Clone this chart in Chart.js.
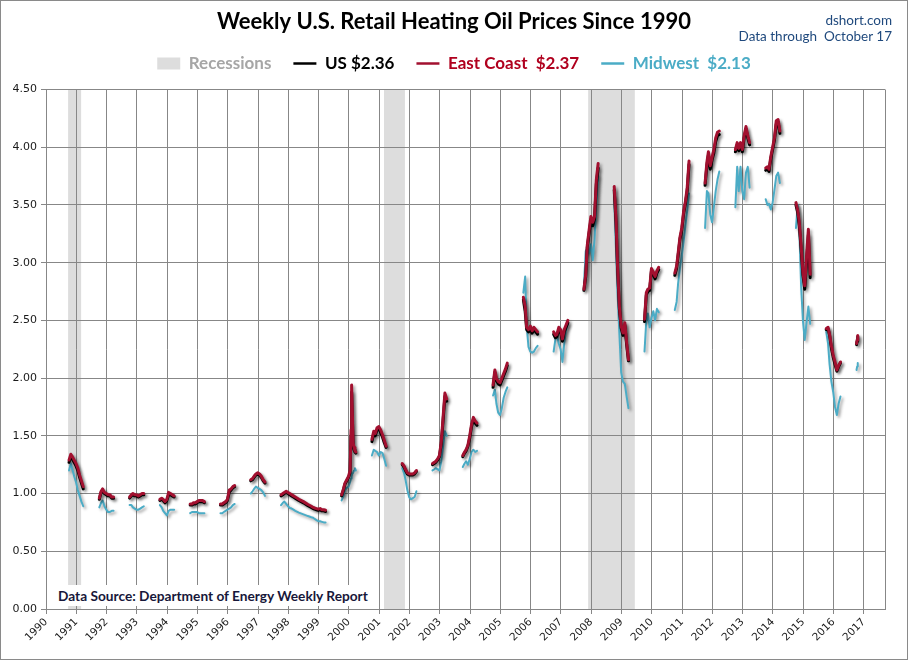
<!DOCTYPE html>
<html>
<head>
<meta charset="utf-8">
<script src="https://cdn.jsdelivr.net/npm/chart.js@4.4.0/dist/chart.umd.min.js"></script>
<style>
html,body{margin:0;padding:0;background:#fff;}
#wrap{position:relative;width:908px;height:660px;box-sizing:border-box;border:1px solid #8a8a8a;background:#fff;overflow:hidden;}
#c{position:absolute;left:0;top:0;}
#brand{position:absolute;right:15px;top:11px;text-align:right;font-family:Lato,"Open Sans",sans-serif;font-size:13.5px;line-height:16px;color:#1F497D;}
#src{position:absolute;left:49px;top:584px;width:327px;height:21px;background:#fff;font-family:Lato,"Open Sans",sans-serif;font-weight:bold;font-size:13.7px;line-height:21px;color:#17173a;padding-left:8px;box-sizing:border-box;white-space:nowrap;}
</style>
</head>
<body>
<div id="wrap">
<canvas id="c" width="906" height="658"></canvas>
<div id="brand">dshort.com<br>Data through&nbsp; October 17</div>
<div id="src">Data Source: Department of Energy Weekly Report</div>
</div>
<script>
// ---- data (decimal years, weekly heating-season readings; null = off season) ----
const weekDates = [
  1990.76,1990.82,1990.87,1990.93,1990.99,1991.05,1991.11,1991.17,1991.23,1991.5,
  1991.76,1991.82,1991.87,1991.93,1991.99,1992.05,1992.11,1992.17,1992.23,1992.5,
  1992.76,1992.82,1992.87,1992.93,1992.99,1993.05,1993.11,1993.17,1993.23,1993.5,
  1993.76,1993.82,1993.87,1993.93,1993.99,1994.05,1994.11,1994.17,1994.23,1994.5,
  1994.76,1994.82,1994.87,1994.93,1994.99,1995.05,1995.11,1995.17,1995.23,1995.5,
  1995.76,1995.82,1995.87,1995.93,1995.99,1996.05,1996.11,1996.17,1996.23,1996.5,
  1996.76,1996.82,1996.87,1996.93,1996.99,1997.05,1997.11,1997.17,1997.23,1997.5,
  1997.76,1997.82,1997.87,1997.93,1997.99,1998.05,1998.11,1998.17,1998.23,1998.35,1998.50,1998.65,1998.76,1998.82,1998.87,1998.93,1998.99,1999.05,1999.11,1999.17,1999.23,1999.5,
  1999.76,1999.82,1999.87,1999.93,1999.99,2000.04,2000.07,2000.09,2000.11,2000.14,2000.17,2000.20,2000.23,2000.5,
  2000.76,2000.82,2000.87,2000.93,2000.99,2001.05,2001.11,2001.17,2001.23,2001.5,
  2001.76,2001.82,2001.87,2001.93,2001.99,2002.05,2002.11,2002.17,2002.23,2002.5,
  2002.76,2002.82,2002.87,2002.93,2002.99,2003.05,2003.11,2003.17,2003.23,2003.5,
  2003.76,2003.82,2003.87,2003.93,2003.99,2004.05,2004.11,2004.17,2004.23,2004.5,
  2004.76,2004.82,2004.87,2004.93,2004.99,2005.05,2005.11,2005.17,2005.23,2005.5,
  2005.76,2005.82,2005.87,2005.93,2005.99,2006.05,2006.11,2006.17,2006.23,2006.5,
  2006.76,2006.82,2006.87,2006.93,2006.99,2007.05,2007.11,2007.17,2007.23,2007.5,
  2007.76,2007.82,2007.87,2007.93,2007.99,2008.05,2008.11,2008.17,2008.23,2008.5,
  2008.76,2008.82,2008.87,2008.93,2008.99,2009.05,2009.11,2009.17,2009.23,2009.5,
  2009.76,2009.82,2009.87,2009.93,2009.99,2010.05,2010.11,2010.17,2010.23,2010.5,
  2010.76,2010.82,2010.87,2010.93,2010.99,2011.05,2011.11,2011.17,2011.23,2011.5,
  2011.76,2011.82,2011.87,2011.93,2011.99,2012.05,2012.11,2012.17,2012.23,2012.5,
  2012.76,2012.82,2012.87,2012.93,2012.99,2013.05,2013.11,2013.17,2013.23,2013.5,
  2013.76,2013.82,2013.87,2013.93,2013.99,2014.05,2014.11,2014.17,2014.23,2014.5,
  2014.76,2014.82,2014.87,2014.93,2014.99,2015.05,2015.11,2015.17,2015.23,2015.5,
  2015.76,2015.82,2015.87,2015.93,2015.99,2016.05,2016.11,2016.17,2016.23,2016.5,
  2016.76,2016.78,2016.80
];

const eastCoastPrice = [
  1.29,1.34,1.32,1.29,1.26,1.22,1.16,1.11,1.06,null,
  0.96,1.02,1.04,1.01,1.00,0.99,0.99,0.97,0.97,null,
  0.97,0.99,1.00,0.99,0.99,0.98,0.99,1.00,1.00,null,
  0.95,0.96,0.95,0.93,0.95,1.01,1.00,0.99,0.98,null,
  0.91,0.91,0.92,0.92,0.93,0.94,0.94,0.94,0.93,null,
  0.91,0.91,0.92,0.93,0.95,1.03,1.04,1.06,1.07,null,
  1.12,1.13,1.15,1.17,1.18,1.17,1.15,1.12,1.10,null,
  0.99,1.00,1.01,1.02,1.01,1.00,0.99,0.98,0.97,0.95,0.93,0.905,0.89,0.88,0.875,0.87,0.865,0.87,0.86,0.86,0.855,null,
  0.99,1.04,1.09,1.12,1.15,1.20,1.55,1.94,1.75,1.44,1.40,1.37,1.36,null,
  1.47,1.54,1.52,1.57,1.58,1.55,1.51,1.46,1.41,null,
  1.26,1.24,1.21,1.18,1.17,1.17,1.17,1.18,1.20,null,
  1.26,1.27,1.28,1.30,1.33,1.45,1.66,1.87,1.82,null,
  1.33,1.36,1.38,1.42,1.50,1.60,1.66,1.63,1.61,null,
  1.94,2.07,2.00,1.97,1.96,2.00,2.04,2.08,2.13,null,
  2.70,2.62,2.44,2.42,2.45,2.41,2.44,2.42,2.40,null,
  2.40,2.37,2.38,2.44,2.42,2.34,2.42,2.46,2.50,null,
  2.77,2.90,3.15,3.28,3.40,3.35,3.40,3.72,3.86,null,
  3.66,3.37,2.97,2.62,2.45,2.39,2.48,2.31,2.16,null,
  2.51,2.74,2.77,2.78,2.95,2.92,2.88,2.93,2.96,null,
  2.91,2.97,3.08,3.22,3.30,3.44,3.53,3.65,3.88,null,
  3.69,3.87,3.96,3.84,3.91,3.98,4.08,4.13,4.14,null,
  3.98,4.04,3.99,4.04,3.98,4.10,4.18,4.10,4.04,null,
  3.82,3.83,3.81,3.92,4.00,4.08,4.23,4.24,4.14,null,
  3.52,3.45,3.35,3.15,2.92,2.80,3.05,3.29,2.90,null,
  2.43,2.44,2.38,2.28,2.20,2.14,2.07,2.11,2.14,null,
  2.30,2.33,2.37
];

const usPrice = [
  1.27,1.32,1.30,1.27,1.24,1.20,1.14,1.09,1.04,null,
  0.95,1.01,1.03,1.00,0.99,0.98,0.98,0.96,0.96,null,
  0.96,0.98,0.99,0.98,0.98,0.97,0.98,0.99,0.99,null,
  0.94,0.95,0.94,0.92,0.94,0.99,0.99,0.98,0.97,null,
  0.90,0.90,0.91,0.91,0.92,0.93,0.93,0.93,0.92,null,
  0.90,0.90,0.91,0.92,0.94,1.01,1.03,1.05,1.06,null,
  1.11,1.12,1.14,1.16,1.17,1.16,1.14,1.11,1.09,null,
  0.98,0.99,1.00,1.01,1.00,0.99,0.98,0.97,0.96,0.94,0.92,0.895,0.88,0.87,0.865,0.86,0.855,0.86,0.85,0.85,0.845,null,
  0.98,1.03,1.08,1.11,1.14,1.18,1.50,1.88,1.70,1.42,1.38,1.36,1.35,null,
  1.45,1.52,1.50,1.55,1.56,1.53,1.49,1.44,1.40,null,
  1.25,1.23,1.20,1.17,1.16,1.16,1.16,1.17,1.19,null,
  1.25,1.26,1.27,1.29,1.32,1.43,1.63,1.84,1.80,null,
  1.32,1.35,1.37,1.41,1.48,1.58,1.64,1.61,1.59,null,
  1.92,2.05,1.98,1.95,1.94,1.98,2.02,2.06,2.11,null,
  2.68,2.58,2.42,2.40,2.43,2.39,2.42,2.40,2.38,null,
  2.38,2.35,2.36,2.42,2.40,2.32,2.40,2.44,2.48,null,
  2.76,2.88,3.13,3.25,3.37,3.32,3.38,3.68,3.82,null,
  3.63,3.34,2.95,2.60,2.43,2.37,2.46,2.29,2.15,null,
  2.49,2.72,2.75,2.76,2.93,2.90,2.86,2.91,2.94,null,
  2.89,2.95,3.06,3.20,3.28,3.42,3.51,3.62,3.85,null,
  3.67,3.84,3.93,3.81,3.89,3.95,4.05,4.10,4.11,null,
  3.96,4.02,3.97,4.02,3.96,4.08,4.16,4.08,4.02,null,
  3.80,3.81,3.79,3.90,3.98,4.06,4.20,4.22,4.12,null,
  3.50,3.43,3.32,3.12,2.89,2.77,3.00,3.24,2.87,null,
  2.42,2.43,2.37,2.26,2.18,2.12,2.06,2.10,2.13,null,
  2.29,2.32,2.36
];

const midwestPrice = [
  1.20,1.26,1.21,1.15,1.10,1.03,0.98,0.93,0.89,null,
  0.88,0.92,0.94,0.89,0.86,0.84,0.84,0.85,0.85,null,
  0.90,0.90,0.88,0.87,0.86,0.86,0.87,0.88,0.89,null,
  0.90,0.88,0.85,0.83,0.81,0.85,0.86,0.86,0.86,null,
  0.83,0.84,0.84,0.84,0.84,0.83,0.83,0.83,0.83,null,
  0.83,0.83,0.84,0.85,0.86,0.87,0.88,0.90,0.91,null,
  1.00,1.02,1.04,1.06,1.05,1.04,1.03,1.01,0.98,null,
  0.90,0.92,0.93,0.91,0.89,0.875,0.87,0.86,0.85,0.835,0.82,0.805,0.795,0.79,0.78,0.77,0.76,0.76,0.755,0.75,0.75,null,
  0.94,0.98,1.03,1.05,1.06,1.10,1.13,1.15,1.17,1.18,1.20,1.22,1.20,null,
  1.33,1.38,1.37,1.36,1.33,1.36,1.35,1.30,1.24,null,
  1.22,1.18,1.12,1.03,0.97,0.95,0.96,0.97,1.02,null,
  1.20,1.21,1.22,1.21,1.20,1.28,1.41,1.54,1.50,null,
  1.23,1.26,1.28,1.25,1.30,1.36,1.38,1.36,1.37,null,
  1.85,1.90,1.78,1.70,1.68,1.74,1.83,1.88,1.92,null,
  2.74,2.88,2.45,2.27,2.23,2.22,2.23,2.26,2.28,null,
  2.23,2.34,2.37,2.30,2.25,2.14,2.30,2.42,2.47,null,
  2.80,3.10,3.12,3.08,3.16,3.02,3.20,3.50,3.75,null,
  3.57,3.11,2.74,2.39,2.05,1.97,1.95,1.84,1.74,null,
  2.23,2.50,2.56,2.44,2.52,2.58,2.50,2.60,2.57,null,
  2.59,2.66,2.82,2.95,3.06,3.18,3.32,3.45,3.60,null,
  3.30,3.62,3.60,3.42,3.35,3.48,3.62,3.72,3.79,null,
  3.48,3.83,3.62,3.83,3.62,3.55,3.78,3.83,3.65,null,
  3.55,3.50,3.51,3.46,3.52,3.63,3.75,3.78,3.69,null,
  3.30,3.50,3.30,2.80,2.50,2.33,2.48,2.62,2.47,null,
  2.40,2.30,2.12,1.97,1.88,1.75,1.68,1.78,1.84,null,
  2.07,2.10,2.13
];

const recessionStart = [1990.73, 2001.16, 2007.90];
const recessionEnd   = [1991.16, 2001.85, 2009.44];

const xMin = 1990, xMax = 2017.7;
const yMin = 0, yMax = 4.5, yStep = 0.5;

// ---- helpers ----
function lastValue(arr){ for(let i=arr.length-1;i>=0;i--){ if(arr[i]!==null) return arr[i]; } return null; }
function pts(vals){ return weekDates.map((d,i)=>({x:d, y:(vals[i]===undefined?null:vals[i])})); }

const GRID = '#878787';
const EC_COLOR = '#A2102F';
const MW_COLOR = '#4BACC6';
const REC_COLOR = '#DDDDDD';

const recessionPlugin = {
  id:'recessions',
  beforeDraw(chart){
    const {ctx, chartArea, scales:{x}} = chart;
    ctx.save();
    ctx.fillStyle = REC_COLOR;
    for(let i=0;i<recessionStart.length;i++){
      const a = x.getPixelForValue(recessionStart[i]);
      const b = x.getPixelForValue(recessionEnd[i]);
      ctx.fillRect(a, chartArea.top, b-a, chartArea.bottom-chartArea.top);
    }
    ctx.restore();
  }
};

const framePlugin = {
  id:'frame',
  beforeDatasetsDraw(chart){
    const {ctx, chartArea} = chart;
    ctx.save();
    ctx.strokeStyle = GRID; ctx.lineWidth = 1;
    ctx.beginPath();
    ctx.moveTo(Math.round(chartArea.right)+0.5, chartArea.top);
    ctx.lineTo(Math.round(chartArea.right)+0.5, chartArea.bottom);
    ctx.stroke();
    ctx.restore();
  }
};

const shadowPlugin = {
  id:'shadow',
  beforeDatasetDraw(chart){
    const ctx = chart.ctx;
    ctx.save();
    ctx.shadowColor = 'rgba(0,0,0,0.38)';
    ctx.shadowBlur = 3;
    ctx.shadowOffsetX = 2;
    ctx.shadowOffsetY = 2;
  },
  afterDatasetDraw(chart){ chart.ctx.restore(); }
};

const usLabel = 'US $' + lastValue(usPrice).toFixed(2);
const ecLabel = 'East Coast  $' + lastValue(eastCoastPrice).toFixed(2);
const mwLabel = 'Midwest  $' + lastValue(midwestPrice).toFixed(2);

new Chart(document.getElementById('c'), {
  type:'line',
  data:{
    datasets:[
      {label:ecLabel, data:pts(eastCoastPrice), borderColor:EC_COLOR, borderWidth:3, pointRadius:0, spanGaps:false, tension:0, borderJoinStyle:'round', borderCapStyle:'round'},
      {label:usLabel, data:pts(usPrice), borderColor:'#000000', borderWidth:3, pointRadius:0, spanGaps:false, tension:0, borderJoinStyle:'round', borderCapStyle:'round'},
      {label:mwLabel, data:pts(midwestPrice), borderColor:MW_COLOR, borderWidth:2, pointRadius:0, spanGaps:false, tension:0, borderJoinStyle:'round', borderCapStyle:'round'}
    ]
  },
  options:{
    responsive:false,
    animation:false,
    layout:{padding:{left:0, right:0, top:0, bottom:0}},
    plugins:{
      title:{display:true, text:'Weekly U.S. Retail Heating Oil Prices Since 1990', color:'#000',
        font:{family:'Lato', size:22, weight:'bold', lineHeight:1}, padding:{top:10, bottom:0}},
      legend:{
        display:true, position:'top', align:'center', onClick:null,
        labels:{
          usePointStyle:true, pointStyleWidth:23, boxWidth:23, boxHeight:12, padding:22,
          font:{family:'Lato', size:17, weight:'bold'},
          generateLabels(){
            return [
              {text:'Recessions', fillStyle:REC_COLOR, strokeStyle:REC_COLOR, lineWidth:0, pointStyle:'rect', fontColor:'#A6A6A6', hidden:false},
              {text:usLabel, fillStyle:'#000', strokeStyle:'#000', lineWidth:2.5, pointStyle:'line', fontColor:'#000', hidden:false, datasetIndex:1},
              {text:ecLabel, fillStyle:EC_COLOR, strokeStyle:EC_COLOR, lineWidth:2.5, pointStyle:'line', fontColor:'#B0001E', hidden:false, datasetIndex:0},
              {text:mwLabel, fillStyle:MW_COLOR, strokeStyle:MW_COLOR, lineWidth:2.5, pointStyle:'line', fontColor:MW_COLOR, hidden:false, datasetIndex:2}
            ];
          }
        }
      },
      tooltip:{enabled:false}
    },
    scales:{
      x:{
        type:'linear', position:'bottom', min:xMin, max:xMax, offset:false,
        grid:{color:GRID, lineWidth:1, tickLength:5, drawTicks:true},
        border:{color:GRID, width:1},
        ticks:{stepSize:1, includeBounds:false, autoSkip:false, minRotation:45, maxRotation:45, padding:2,
          color:'#1a1a1a', font:{family:'DejaVu Sans', size:10.5}, callback:v=>String(v)},
        afterFit(s){ s.height = 50; }
      },
      xTop:{
        type:'linear', position:'top', display:true,
        grid:{display:false, drawTicks:false}, border:{display:false}, ticks:{display:false},
        afterFit(s){ s.height = 7.5; }
      },
      y:{
        min:yMin, max:yMax,
        grid:{color:GRID, lineWidth:1, tickLength:5, drawTicks:true},
        border:{color:GRID, width:1},
        ticks:{stepSize:yStep, padding:4, color:'#1a1a1a', font:{family:'DejaVu Sans', size:11}, callback:v=>Number(v).toFixed(2)},
        afterFit(s){ s.width = 45; }
      },
      yRight:{
        type:'linear', position:'right', display:true,
        grid:{display:false, drawTicks:false}, border:{display:false}, ticks:{display:false},
        afterFit(s){ s.width = 22; }
      }
    }
  },
  plugins:[recessionPlugin, framePlugin, shadowPlugin]
});
</script>
</body>
</html>
